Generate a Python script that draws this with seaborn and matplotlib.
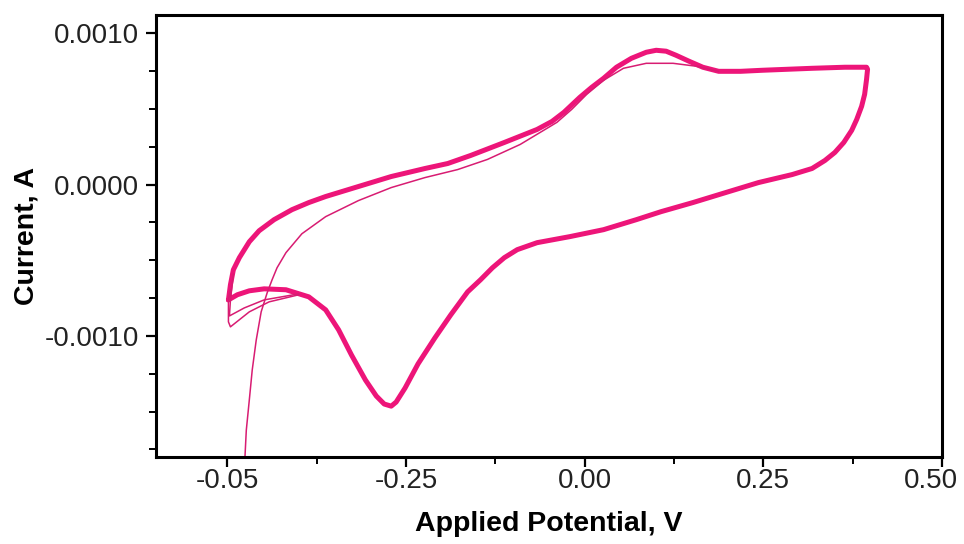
import numpy as np
import pandas as pd
import matplotlib
matplotlib.use("Agg")
import matplotlib.pyplot as plt
from matplotlib.ticker import AutoMinorLocator, FixedLocator
from matplotlib.transforms import ScaledTranslation
import seaborn as sns

# ---- data ----
# main (repeated) cycle: forward scan then reverse scan
fwd_v = [-0.4986, -0.4958, -0.4917, -0.4833, -0.4694, -0.4556, -0.4347, -0.4097,
         -0.3861, -0.3625, -0.3167, -0.2708, -0.2236, -0.1917, -0.1597, -0.1125,
         -0.0667, -0.0458, -0.0292, -0.0069, 0.0097, 0.0264, 0.0444, 0.0653,
         0.0861, 0.1000, 0.1139, 0.1278, 0.1458, 0.1653, 0.1875, 0.2181,
         0.2486, 0.3181, 0.3639, 0.3944]
fwd_i = [-7.62e-4, -6.62e-4, -5.63e-4, -4.83e-4, -3.78e-4, -3.05e-4, -2.32e-4, -1.66e-4,
         -1.19e-4, -7.9e-5, -1.3e-5, 5.3e-5, 1.06e-4, 1.39e-4, 1.92e-4, 2.78e-4,
         3.64e-4, 4.17e-4, 4.77e-4, 5.76e-4, 6.42e-4, 7.02e-4, 7.75e-4, 8.34e-4,
         8.74e-4, 8.87e-4, 8.81e-4, 8.54e-4, 8.15e-4, 7.75e-4, 7.48e-4, 7.48e-4,
         7.55e-4, 7.68e-4, 7.75e-4, 7.75e-4]
rev_v = [0.3958, 0.3944, 0.3917, 0.3875, 0.3806, 0.3736, 0.3625, 0.3500,
         0.3361, 0.3181, 0.2903, 0.2431, 0.1972, 0.1514, 0.1069, 0.0722,
         0.0264, -0.0208, -0.0667, -0.0944, -0.1125, -0.1292, -0.1458, -0.1639,
         -0.1875, -0.2097, -0.2333, -0.2514, -0.2639, -0.2708, -0.2806, -0.2917,
         -0.3069, -0.3264, -0.3444, -0.3625, -0.3861, -0.4181, -0.4486, -0.4694,
         -0.4861, -0.4986]
rev_i = [7.62e-4, 6.95e-4, 5.96e-4, 5.17e-4, 4.30e-4, 3.58e-4, 2.78e-4, 2.12e-4,
         1.59e-4, 1.06e-4, 6.6e-5, 1.3e-5, -5.3e-5, -1.19e-4, -1.79e-4, -2.32e-4,
         -2.98e-4, -3.44e-4, -3.84e-4, -4.30e-4, -4.83e-4, -5.50e-4, -6.29e-4, -7.09e-4,
         -8.61e-4, -1.013e-3, -1.185e-3, -1.344e-3, -1.437e-3, -1.464e-3, -1.450e-3, -1.397e-3,
         -1.291e-3, -1.126e-3, -9.60e-4, -8.28e-4, -7.42e-4, -6.95e-4, -6.89e-4, -7.02e-4,
         -7.28e-4, -7.62e-4]

# first cycle: starts far below the axis and rises, lower anodic peak
first_v = [-0.4764, -0.4736, -0.4694, -0.4653, -0.4597, -0.4528, -0.4444, -0.4375,
           -0.4306, -0.4181, -0.3958, -0.3625, -0.3167, -0.2708, -0.2236, -0.1778,
           -0.1361, -0.0903, -0.0389, -0.0181, 0.0028, 0.0264, 0.0542, 0.0861,
           0.1236, 0.1556, 0.1875]
first_i = [-1.887e-3, -1.623e-3, -1.424e-3, -1.225e-3, -1.027e-3, -8.41e-4, -7.15e-4, -6.29e-4,
           -5.50e-4, -4.50e-4, -3.25e-4, -2.12e-4, -1.06e-4, -2.0e-5, 4.6e-5, 9.9e-5,
           1.66e-4, 2.65e-4, 4.11e-4, 4.97e-4, 5.96e-4, 6.89e-4, 7.68e-4, 8.01e-4,
           8.01e-4, 7.82e-4, 7.48e-4]

# cycles that turn round lower at the negative vertex
vtxa_v = [-0.4000, -0.4417, -0.4694, -0.4958, -0.4986, -0.4986, -0.4958]
vtxa_i = [-7.28e-4, -7.75e-4, -8.41e-4, -9.40e-4, -9.07e-4, -7.62e-4, -6.95e-4]
vtxb_v = [-0.4000, -0.4486, -0.4764, -0.4972, -0.4958, -0.4917]
vtxb_i = [-7.22e-4, -7.62e-4, -8.15e-4, -8.68e-4, -7.62e-4, -5.90e-4]

x_ticks = [-0.50, -0.25, 0.00, 0.25, 0.50]
x_tick_labels = ["-0.05", "-0.25", "0.00", "0.25", "0.50"]
y_ticks = [-0.0010, 0.0000, 0.0010]
y_tick_labels = ["-0.0010", "0.0000", "0.0010"]

# ---- figure ----
sns.set_style("ticks")
plt.rcParams["font.family"] = ["Liberation Sans", "DejaVu Sans"]

fig = plt.figure(figsize=(9.64, 5.44), dpi=100)
ax = fig.add_axes([0.1618, 0.1599, 0.8154, 0.8125])

color = "#ED1579"
main = pd.DataFrame({"V": fwd_v + rev_v, "I": fwd_i + rev_i})
sns.lineplot(data=main, x="V", y="I", sort=False, estimator=None, ax=ax,
             color=color, lw=3.6, solid_joinstyle="round")
first = pd.DataFrame({"V": first_v, "I": first_i})
sns.lineplot(data=first, x="V", y="I", sort=False, estimator=None, ax=ax,
             color="#D81C72", lw=1.1)
for vv, ii in [(vtxa_v, vtxa_i), (vtxb_v, vtxb_i)]:
    sns.lineplot(x=vv, y=ii, sort=False, estimator=None, ax=ax,
                 color="#D81C72", lw=1.1)

ax.set_xlim(-0.60, 0.50)
ax.set_ylim(-0.00180, 0.00112)

ax.xaxis.set_major_locator(FixedLocator(x_ticks))
ax.set_xticklabels(x_tick_labels)
ax.xaxis.set_minor_locator(AutoMinorLocator(2))
ax.yaxis.set_major_locator(FixedLocator(y_ticks))
ax.set_yticklabels(y_tick_labels)
ax.yaxis.set_minor_locator(AutoMinorLocator(4))

ax.tick_params(axis="both", which="major", length=7, width=1.6, labelsize=20,
               colors="black", labelcolor="#222222")
ax.tick_params(axis="x", which="major", pad=1)
ax.tick_params(axis="y", which="major", pad=5)
ax.tick_params(axis="both", which="minor", length=5, width=1.4, colors="black")
for s in ax.spines.values():
    s.set_visible(True)
    s.set_linewidth(2.2)
    s.set_color("black")

# last x tick label sits slightly left of its tick, as in the original
last_lbl = ax.xaxis.get_major_ticks()[-1].label1
last_lbl.set_transform(last_lbl.get_transform() +
                       ScaledTranslation(-0.11, 0, fig.dpi_scale_trans))

ax.set_xlabel("Applied Potential, V", fontsize=20.5, fontweight="bold",
              labelpad=12, color="black")
ax.set_ylabel("Current, A", fontsize=20.5, fontweight="bold", labelpad=4,
              color="black")

fig.savefig("out.png", dpi=100)
